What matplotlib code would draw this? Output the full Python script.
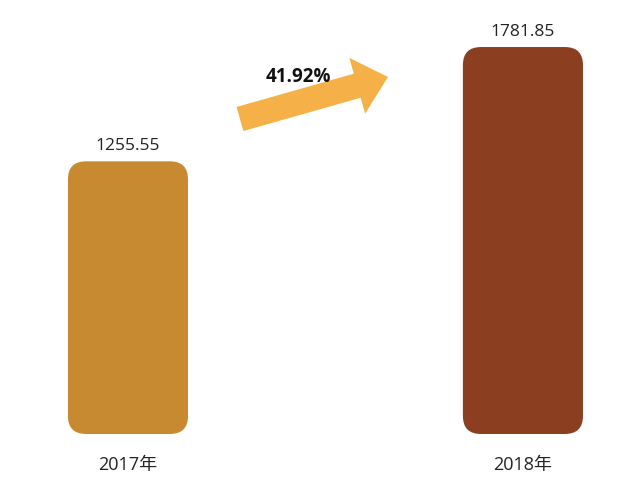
import matplotlib
matplotlib.use("Agg")
import matplotlib.pyplot as plt
from matplotlib.patches import FancyBboxPatch, FancyArrow

plt.rcParams['font.family'] = ['Open Sans', 'Noto Sans CJK SC', 'DejaVu Sans']

years = ["2017年", "2018年"]
values = [1255.55, 1781.85]
value_labels = ["1255.55", "1781.85"]
growth = "41.92%"
colors = ["#C88A30", "#8B3F20"]

fig = plt.figure(figsize=(6.28, 4.89), dpi=100)
ax = fig.add_axes([0, 54 / 489, 1, 435 / 489])
ax.set_xlim(-0.324, 1.266)
ax.set_ylim(0, 2003)

width = 0.304
# rounded corners, radius in x units; aspect converts to y units
rad = 0.046
aspect = (18 / 0.2172) / rad
for i, (v, c) in enumerate(zip(values, colors)):
    box = FancyBboxPatch((i - width / 2, 0), width, v,
                         boxstyle="round,pad=0,rounding_size=%f" % rad,
                         mutation_aspect=aspect, facecolor=c,
                         edgecolor="none")
    ax.add_patch(box)
    ax.annotate(value_labels[i], (i, v), xytext=(0, 6), textcoords="offset points",
                ha="center", va="bottom", fontsize=12.5, color="#222222")

ax.set_xticks(range(len(years)))
ax.set_xticklabels(years, fontsize=13, color="#222222")
ax.tick_params(axis="x", length=0, pad=15)
ax.set_yticks([])
for s in ax.spines.values():
    s.set_visible(False)

# growth arrow in pixel coordinates overlay
ov = fig.add_axes([0, 0, 1, 1], facecolor="none")
ov.set_xlim(0, 628)
ov.set_ylim(0, 489)
ov.axis("off")
ov.add_patch(FancyArrow(240, 369, 148, 42, width=25, head_width=58, head_length=32,
                        length_includes_head=True, color="#F5B148", linewidth=0))
ov.text(298, 412, growth, ha="center", va="center", fontsize=13.5,
        fontweight="bold", color="#111111")

fig.savefig("out.png", dpi=100, facecolor="white")
